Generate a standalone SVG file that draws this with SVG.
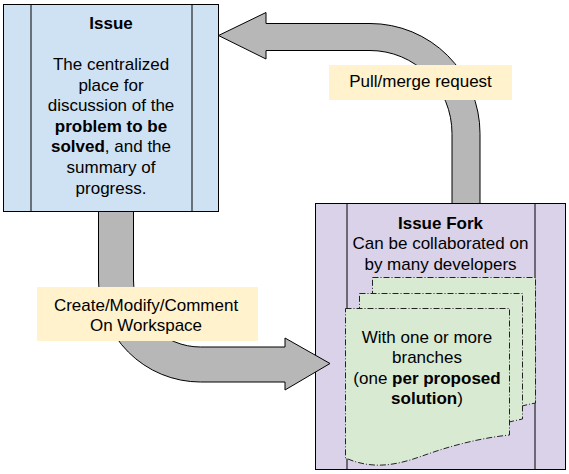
<svg xmlns="http://www.w3.org/2000/svg" width="569" height="474" viewBox="0 0 569 474">
<style>
text{font-family:"Liberation Sans",Arial,sans-serif;font-size:17px;fill:#000;text-anchor:middle}
.b{font-weight:bold}
.box{stroke:#000;stroke-width:1}
.arrow{fill:#b7b7b7;stroke:#000;stroke-width:1;stroke-linejoin:miter}
.lbl{fill:#fff2cc;stroke:none}
.page{fill:#d9ead3;stroke:#222;stroke-width:1;stroke-dasharray:6 2 1 2}
</style>
<rect width="569" height="474" fill="#fff"/>
<g id="issue">
<rect class="box" x="3.5" y="4.5" width="215" height="207" fill="#cfe2f3"/>
<line class="box" x1="31" y1="4.5" x2="31" y2="211.5"/>
<line class="box" x1="192" y1="4.5" x2="192" y2="211.5"/>
<text x="111" y="29" class="b">Issue</text>
<text x="111" y="70">The centralized</text>
<text x="111" y="90.6">place for</text>
<text x="111" y="111.2">discussion of the</text>
<text x="111" y="131.8" class="b">problem to be</text>
<text x="111" y="152.4"><tspan class="b">solved</tspan>, and the</text>
<text x="111" y="173">summary of</text>
<text x="111" y="193.6">progress.</text>
</g>
<g id="issue-fork">
<rect class="box" x="315.5" y="203.5" width="250" height="266" fill="#d9d2e9"/>
<line class="box" x1="347" y1="203.5" x2="347" y2="469.5"/>
<line class="box" x1="535" y1="203.5" x2="535" y2="469.5"/>
<text x="440.5" y="228.5" class="b">Issue Fork</text>
<text x="440.5" y="249">Can be collaborated on</text>
<text x="440.5" y="269.5">by many developers</text>
</g>
<g id="branches">
<path class="page" d="M372.5,277.5 H535.5 V403 C530,404 526,405 522,406 L372.5,406 Z"/>
<path class="page" d="M359.5,293.5 H522.5 V419 C518,420 513,421 509,422 L359.5,422 Z"/>
<path class="page" d="M345.5,308.5 H509.5 V435 C480,438 450,446 425,455 C400,464 375,471 345.5,458 Z"/>
<text x="427" y="342.5">With one or more</text>
<text x="427" y="363">branches</text>
<text x="427" y="383.5">(one <tspan class="b">per proposed</tspan></text>
<text x="427" y="404"><tspan class="b">solution</tspan>)</text>
</g>
<g id="connectors">
<path class="arrow" d="M266,23.5 L370,23.5 A110,110 0 0 1 480,133.5 L480,203.5 L452,203.5 L452,133.5 A82,83 0 0 0 370,50.5 L266,50.5 L266,59 L218.5,35.5 L266,12.5 Z"/>
<path class="arrow" d="M98.5,211.5 L98.5,280 A102,102 0 0 0 200.5,382 L285,382 L285,390 L330,363.5 L285,338 L285,347 L200.5,347 A67,67 0 0 1 133.5,280 L133.5,211.5 Z"/>
</g>
<g id="label-pull">
<rect class="lbl" x="329" y="65" width="183" height="35"/>
<text x="420.5" y="87">Pull/merge request</text>
</g>
<g id="label-create">
<rect class="lbl" x="37" y="287" width="221" height="54"/>
<text x="146" y="311">Create/Modify/Comment</text>
<text x="146" y="331">On Workspace</text>
</g>
</svg>
